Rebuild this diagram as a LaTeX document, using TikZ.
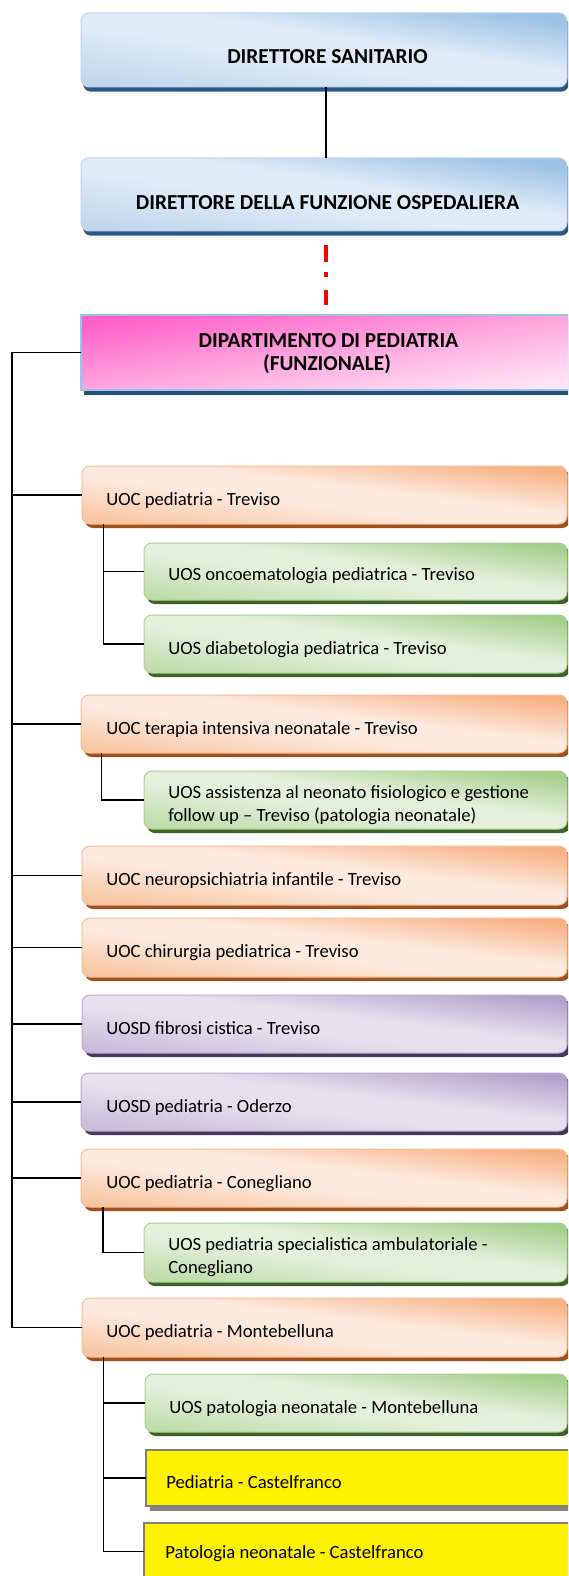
\documentclass[tikz,border=0pt]{standalone}
\usepackage{fontspec}
\setmainfont{Carlito}
\usetikzlibrary{shadows}

\definecolor{bTop}{HTML}{9CC2E5}
\definecolor{bMid}{HTML}{DFEBF7}
\definecolor{bBot}{HTML}{C2D7EE}
\definecolor{bLine}{HTML}{BCD4EC}
\definecolor{bSh}{HTML}{2C5987}
\definecolor{oTop}{HTML}{F7B183}
\definecolor{oMid}{HTML}{FDEADF}
\definecolor{oBot}{HTML}{F8C6A2}
\definecolor{oLine}{HTML}{F6BC94}
\definecolor{oSh}{HTML}{A0501A}
\definecolor{gTop}{HTML}{A6CF8B}
\definecolor{gMid}{HTML}{E4F0DC}
\definecolor{gBot}{HTML}{BFDDAB}
\definecolor{gLine}{HTML}{A9D18E}
\definecolor{gSh}{HTML}{3D6128}
\definecolor{pTop}{HTML}{B2A2CB}
\definecolor{pMid}{HTML}{E6E1EE}
\definecolor{pBot}{HTML}{C8BCDA}
\definecolor{pLine}{HTML}{B8AACF}
\definecolor{pSh}{HTML}{46385A}
\definecolor{kTop}{HTML}{FF5FC8}
\definecolor{kMid}{HTML}{FFA6DE}
\definecolor{kBot}{HTML}{FFE6F6}
\definecolor{kLine}{HTML}{9DC3E6}
\definecolor{kSh}{HTML}{24507D}
\definecolor{yLine}{HTML}{7F7F7F}
\definecolor{ySh}{HTML}{858585}

\pgfdeclareverticalshading{bshade}{100bp}{color(0bp)=(bBot); color(25bp)=(bBot); color(45bp)=(bMid); color(56bp)=(bMid); color(75bp)=(bTop); color(100bp)=(bTop)}
\pgfdeclareverticalshading{oshade}{100bp}{color(0bp)=(oBot); color(25bp)=(oBot); color(45bp)=(oMid); color(55bp)=(oMid); color(75bp)=(oTop); color(100bp)=(oTop)}
\pgfdeclareverticalshading{gshade}{100bp}{color(0bp)=(gBot); color(25bp)=(gBot); color(45bp)=(gMid); color(55bp)=(gMid); color(75bp)=(gTop); color(100bp)=(gTop)}
\pgfdeclareverticalshading{pshade}{100bp}{color(0bp)=(pBot); color(25bp)=(pBot); color(45bp)=(pMid); color(55bp)=(pMid); color(75bp)=(pTop); color(100bp)=(pTop)}
\pgfdeclareverticalshading{kshade}{100bp}{color(0bp)=(kBot); color(25bp)=(kBot); color(50bp)=(kMid); color(75bp)=(kTop); color(100bp)=(kTop)}

\begin{document}
\begin{tikzpicture}[x=0.75pt,y=-0.75pt,
  every node/.style={font=\fontsize{14pt}{17pt}\selectfont},
  basebox/.style={inner sep=0pt, outer sep=0pt, line width=0.75pt},
  rbox/.style={basebox, rounded corners=6pt},
  W/.style={minimum width=#1*0.75pt},
  H/.style={minimum height=#1*0.75pt},
  bluebox/.style={rbox, draw=bLine, shade, shading=bshade, shading angle=-8.7,
    drop shadow={shadow xshift=1.5pt, shadow yshift=-3.5pt, fill=bSh, opacity=1}},
  obox/.style={rbox, draw=oLine, shade, shading=oshade, shading angle=-7,
    drop shadow={shadow xshift=2.25pt, shadow yshift=-3pt, fill=oSh, opacity=1}},
  gbox/.style={rbox, draw=gLine, shade, shading=gshade, shading angle=-7.8,
    drop shadow={shadow xshift=2.25pt, shadow yshift=-3pt, fill=gSh, opacity=1}},
  pbox/.style={rbox, draw=pLine, shade, shading=pshade, shading angle=-7,
    drop shadow={shadow xshift=2.25pt, shadow yshift=-3pt, fill=pSh, opacity=1}},
  pinkbox/.style={basebox, draw=kLine, line width=1.6pt, shade, shading=kshade, shading angle=8.5,
    drop shadow={shadow xshift=2.25pt, shadow yshift=-4pt, fill=kSh, opacity=1}},
  ybox/.style={basebox, draw=yLine, line width=1.1pt, fill=yellow,
    drop shadow={shadow xshift=3pt, shadow yshift=-3.5pt, fill=ySh, opacity=1}},
  lbl/.style={anchor=base west, inner sep=0pt},
  ctr/.style={anchor=base, inner sep=0pt, font=\fontsize{16pt}{19pt}\selectfont\bfseries},
  conn/.style={draw=black, line width=1.2pt},
  redl/.style={draw=red, line width=2.6pt,
    dash pattern=on 12.75pt off 7.5pt on 3.75pt off 9.75pt on 11.25pt off 40pt,
    shorten <=10.5pt, shorten >=7.5pt}
]
\useasboundingbox (0,0) rectangle (568,1576);
\clip (0,0) rectangle (568,1576);

% top boxes
\node[bluebox, W=486, H=74] (DS) at (324,50) {};
\node[ctr] (DSt) at (327.5,63.3) {DIRETTORE SANITARIO};
\node[bluebox, W=486, H=73] (DFO) at (324,194.5) {};
\node[ctr] (DFOt) at (327.5,209.3) {DIRETTORE DELLA FUNZIONE OSPEDALIERA};
\node[pinkbox, W=499, H=75] (DP) at (330.5,352.5) {};
\node[ctr] (DPt1) at (328.5,347.3) {DIPARTIMENTO DI PEDIATRIA};
\node[ctr] (DPt2) at (327,370.8) {(FUNZIONALE)};

% units
\node[obox, W=485, H=58] (O1) at (324.5,495) {};
\node[lbl] (O1t) at (106,505) {UOC pediatria - Treviso};
\node[gbox, W=423, H=57] (G1) at (355.5,571.5) {};
\node[lbl] (G1t) at (168,580.5) {UOS oncoematologia pediatrica - Treviso};
\node[gbox, W=423, H=58] (G2) at (355.5,644) {};
\node[lbl] (G2t) at (168,654) {UOS diabetologia pediatrica - Treviso};

\node[obox, W=486, H=58] (O2) at (324,724) {};
\node[lbl] (O2t) at (106,734) {UOC terapia intensiva neonatale - Treviso};
\node[gbox, W=423, H=58] (G3) at (355.5,800) {};
\node[lbl] (G3t1) at (168,798.5) {UOS assistenza al neonato fisiologico e gestione};
\node[lbl] (G3t2) at (168,821) {follow up – Treviso (patologia neonatale)};

\node[obox, W=485, H=59] (O3) at (324.5,875.5) {};
\node[lbl] (O3t) at (106,885.5) {UOC neuropsichiatria infantile - Treviso};
\node[obox, W=485, H=59] (O4) at (324.5,947.5) {};
\node[lbl] (O4t) at (106,957.5) {UOC chirurgia pediatrica - Treviso};

\node[pbox, W=485, H=58] (P1) at (324.5,1024) {};
\node[lbl] (P1t) at (106,1034) {UOSD fibrosi cistica - Treviso};
\node[pbox, W=486, H=58] (P2) at (324,1102) {};
\node[lbl] (P2t) at (106,1112) {UOSD pediatria - Oderzo};

\node[obox, W=486, H=58] (O5) at (324,1178) {};
\node[lbl] (O5t) at (106,1188) {UOC pediatria - Conegliano};
\node[gbox, W=423, H=59] (G4) at (355.5,1252.5) {};
\node[lbl] (G4t1) at (168,1250) {UOS pediatria specialistica ambulatoriale -};
\node[lbl] (G4t2) at (168,1273) {Conegliano};

\node[obox, W=485, H=59] (O6) at (324.5,1327.5) {};
\node[lbl] (O6t) at (106,1337.5) {UOC pediatria - Montebelluna};
\node[gbox, W=422, H=58] (G5) at (356,1403) {};
\node[lbl] (G5t) at (169,1413) {UOS patologia neonatale - Montebelluna};
\node[ybox, W=444, H=56] (Y1) at (368,1478) {};
\node[lbl] (Y1t) at (166,1488) {Pediatria - Castelfranco};
\node[ybox, W=446, H=57] (Y2) at (367,1551.5) {};
\node[lbl] (Y2t) at (165,1558) {Patologia neonatale - Castelfranco};

% connectors
\draw[conn] ([xshift=1.3pt]DS.south) -- ([xshift=1.3pt]DFO.north);
\draw[redl] ([xshift=1.5pt]DFO.south) -- ([xshift=1.5pt]DFO.south |- DP.north);

\draw[conn] (DP.west) -- ++(-69,0) coordinate (T) |- (O6.west);
\foreach \n in {O1,O2,O3,O4,P1,P2,O5}
  \draw[conn] (T |- \n.west) -- (\n.west);

\coordinate (s1) at ([xshift=16.1pt]O1.south west);
\draw[conn] (s1) |- (G2.west);
\draw[conn] (s1 |- G1.west) -- (G1.west);

\coordinate (s2) at ([xshift=15.5pt]O2.south west);
\draw[conn] (s2) |- (G3.west);

\coordinate (s3) at ([xshift=16.5pt]O5.south west);
\draw[conn] (s3) |- (G4.west);

\coordinate (s4) at ([xshift=16.1pt]O6.south west);
\draw[conn] (s4) |- (Y2.west);
\draw[conn] (s4 |- G5.west) -- (G5.west);
\draw[conn] (s4 |- Y1.west) -- (Y1.west);
\end{tikzpicture}
\end{document}
